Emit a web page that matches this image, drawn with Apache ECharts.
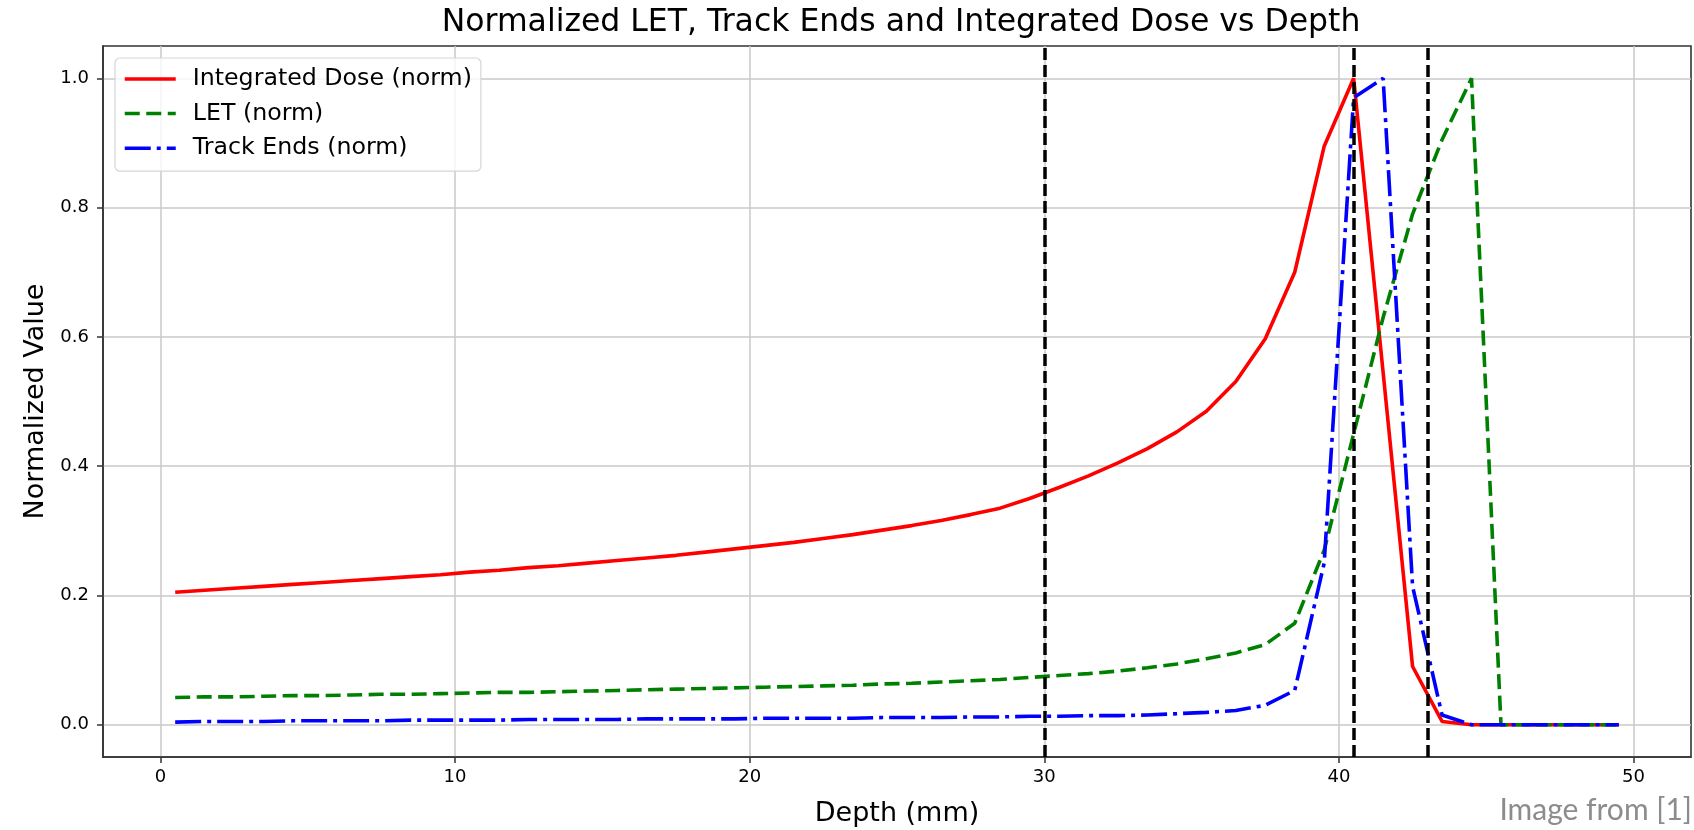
<!DOCTYPE html>
<html>
<head>
<meta charset="utf-8">
<title>Normalized LET, Track Ends and Integrated Dose vs Depth</title>
<script src="https://cdn.jsdelivr.net/npm/echarts@6/dist/echarts.min.js"></script>
<style>
  html, body { margin: 0; padding: 0; background: #fff; }
  #main { width: 1694px; height: 830px; }
</style>
</head>
<body>
<div id="main"></div>
<script>
// depth bins (mm)
const depth = [0.5, 1.5, 2.5, 3.5, 4.5, 5.5, 6.5, 7.5, 8.5, 9.5,
  10.5, 11.5, 12.5, 13.5, 14.5, 15.5, 16.5, 17.5, 18.5, 19.5,
  20.5, 21.5, 22.5, 23.5, 24.5, 25.5, 26.5, 27.5, 28.5, 29.5,
  30.5, 31.5, 32.5, 33.5, 34.5, 35.5, 36.5, 37.5, 38.5, 39.5,
  40.5, 41.5, 42.5, 43.5, 44.5, 45.5, 46.5, 47.5, 48.5, 49.5];

const doseNorm = [0.205, 0.208, 0.211, 0.214, 0.217, 0.220, 0.223, 0.226, 0.229, 0.232,
  0.236, 0.239, 0.243, 0.246, 0.250, 0.254, 0.258, 0.262, 0.267, 0.272,
  0.277, 0.282, 0.288, 0.294, 0.301, 0.308, 0.316, 0.325, 0.335, 0.350,
  0.367, 0.385, 0.405, 0.427, 0.453, 0.485, 0.531, 0.597, 0.700, 0.895,
  1.000, 0.545, 0.090, 0.005, 0, 0, 0, 0, 0, 0];

const letNorm = [0.042, 0.043, 0.043, 0.044, 0.045, 0.045, 0.046, 0.047, 0.047, 0.048,
  0.049, 0.050, 0.050, 0.051, 0.052, 0.053, 0.054, 0.055, 0.056, 0.057,
  0.058, 0.059, 0.060, 0.061, 0.063, 0.064, 0.066, 0.068, 0.070, 0.073,
  0.076, 0.079, 0.083, 0.088, 0.094, 0.102, 0.111, 0.124, 0.157, 0.270,
  0.450, 0.630, 0.790, 0.905, 1.000, 0, 0, 0, 0, 0];

const trackEndsNorm = [0.004, 0.005, 0.005, 0.005, 0.006, 0.006, 0.006, 0.006, 0.007, 0.007,
  0.007, 0.007, 0.008, 0.008, 0.008, 0.008, 0.009, 0.009, 0.009, 0.009,
  0.010, 0.010, 0.010, 0.010, 0.011, 0.011, 0.011, 0.012, 0.012, 0.013,
  0.013, 0.014, 0.014, 0.015, 0.017, 0.019, 0.022, 0.030, 0.053, 0.250,
  0.970, 1.000, 0.214, 0.015, 0, 0, 0, 0, 0, 0];

// vertical markers (mm)
const markerDepths = [30, 40.5, 43];

const xTicks = [0, 10, 20, 30, 40, 50];
const yTicks = [0, 0.2, 0.4, 0.6, 0.8, 1.0];

const chart = echarts.init(document.getElementById('main'));

const pairs = ys => depth.map((d, i) => [d, ys[i]]);
const font = 'DejaVu Sans';

const option = {
  animation: false,
  title: {
    text: 'Normalized LET, Track Ends and Integrated Dose vs Depth',
    left: 896, top: 2, textAlign: 'center',
    textStyle: { fontFamily: font, fontSize: 31.5, fontWeight: 'normal', color: '#000' }
  },
  legend: {
    data: ['Integrated Dose (norm)', 'LET (norm)', 'Track Ends (norm)'],
    orient: 'vertical', left: 115, top: 58,
    itemWidth: 51, itemHeight: 14, itemGap: 6.6,
    padding: [7, 9, 9, 8],
    backgroundColor: 'rgba(255,255,255,0.8)',
    borderColor: '#d5d5d5', borderWidth: 1.2, borderRadius: 5,
    itemStyle: { opacity: 0 },
    lineStyle: { width: 3.5 },
    textStyle: { fontFamily: font, fontSize: 23.7, color: '#000', lineHeight: 28, padding: [0, 0, 0, 12] }
  },
  grid: { left: 103, right: 3, top: 46, bottom: 73, containLabel: false, outerBoundsMode: 'none',
    show: true, borderColor: '#333', borderWidth: 1.6, backgroundColor: 'transparent' },
  xAxis: {
    type: 'value', min: -1.95, max: 51.95,
    name: 'Depth (mm)', nameLocation: 'middle', nameGap: 43,
    nameTextStyle: { fontFamily: font, fontSize: 27, color: '#000' },
    axisLine: { onZero: false, lineStyle: { color: '#333', width: 1.6 } },
    axisTick: { customValues: xTicks, length: 6, lineStyle: { color: '#333', width: 1.5 } },
    axisLabel: { customValues: xTicks, margin: 11, fontFamily: font, fontSize: 18, color: '#000' },
    splitLine: { show: true, lineStyle: { color: '#c8c8c8', width: 1.5 } }
  },
  yAxis: {
    type: 'value', min: -0.05, max: 1.05,
    name: 'Normalized Value', nameLocation: 'middle', nameGap: 54,
    nameTextStyle: { fontFamily: font, fontSize: 27, color: '#000' },
    axisLine: { show: true, onZero: false, lineStyle: { color: '#333', width: 1.6 } },
    axisTick: { show: true, customValues: yTicks, length: 6, lineStyle: { color: '#333', width: 1.5 } },
    axisLabel: { customValues: yTicks, margin: 14, fontFamily: font, fontSize: 18, color: '#000',
      formatter: v => v.toFixed(1) },
    splitLine: { show: true, lineStyle: { color: '#c8c8c8', width: 1.5 } }
  },
  series: [
    {
      name: 'Integrated Dose (norm)', type: 'line', data: pairs(doseNorm),
      showSymbol: false, symbol: 'none', color: '#ff0000', itemStyle: { opacity: 0 },
      lineStyle: { color: '#ff0000', width: 3.6 }
    },
    {
      name: 'LET (norm)', type: 'line', data: pairs(letNorm),
      showSymbol: false, symbol: 'none', color: '#008000', itemStyle: { opacity: 0 },
      lineStyle: { color: '#008000', width: 3.6, type: [15, 6.5], cap: 'butt' }
    },
    {
      name: 'Track Ends (norm)', type: 'line', data: pairs(trackEndsNorm),
      showSymbol: false, symbol: 'none', color: '#0000ff', itemStyle: { opacity: 0 },
      lineStyle: { color: '#0000ff', width: 3.6, type: [26, 6, 4, 6], cap: 'butt' }
    },
    {
      name: 'markers', type: 'line', data: [],
      markLine: {
        silent: true, symbol: 'none', animation: false,
        label: { show: false },
        lineStyle: { color: '#000', width: 3.5, type: [12, 5] },
        data: markerDepths.map(d => ({ xAxis: d }))
      }
    }
  ],
  graphic: [{
    type: 'text', right: 2, top: 795,
    style: { text: 'Image from [1]', fontFamily: 'Lato', fontSize: 30, fill: '#8c8c8c' }
  }]
};

chart.setOption(option);
</script>
</body>
</html>
